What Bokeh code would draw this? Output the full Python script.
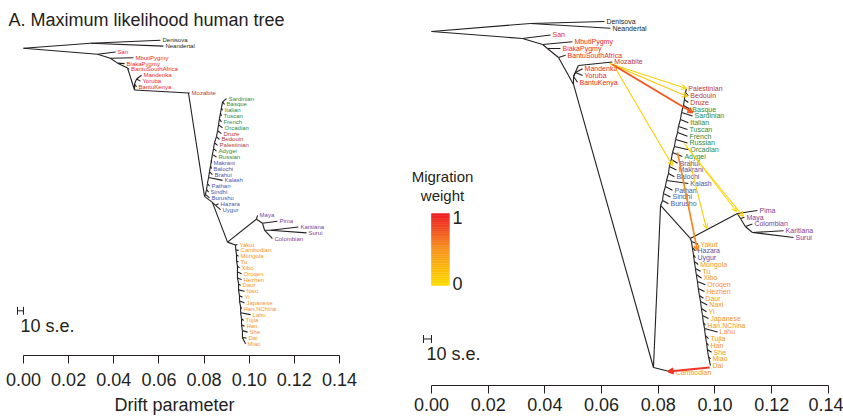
import numpy as np
from bokeh.plotting import figure
from bokeh.layouts import row
from bokeh.models import (Range1d, FixedTicker, NumeralTickFormatter, ColumnDataSource,
                          Label, Arrow, OpenHead)
from bokeh.embed import file_html
from bokeh.resources import INLINE
from bokeh.core.properties import value

FONT = "Liberation Sans"

# ---------------- DATA: left panel (tree without migration) ----------------
L_tip_names = ["Denisova", "Neandertal", "San", "MbutiPygmy", "BiakaPygmy", "BantuSouthAfrica",
               "Mandenka", "Yoruba", "BantuKenya", "Mozabite", "Sardinian", "Basque", "Italian",
               "Tuscan", "French", "Orcadian", "Druze", "Bedouin", "Palestinian", "Adygei", "Russian",
               "Makrani", "Balochi", "Brahui", "Kalash", "Pathan", "Sindhi", "Burusho", "Hazara",
               "Uygur", "Maya", "Pima", "Karitiana", "Surui", "Colombian", "Yakut", "Cambodian",
               "Mongola", "Tu", "Xibo", "Oroqen", "Hezhen", "Daur", "Naxi", "Yi", "Japanese",
               "Han.NChina", "Lahu", "Tujia", "Han", "She", "Dai", "Miao"]
L_tip_group = ["arch", "arch", "afr", "afr", "afr", "afr", "afr", "afr", "afr", "me",
               "eur", "eur", "eur", "eur", "eur", "eur", "me", "me", "me", "eur", "eur",
               "csa", "csa", "csa", "csa", "csa", "csa", "csa", "csa", "csa",
               "amr", "amr", "amr", "amr", "amr"] + ["eas"] * 18
L_tip_drift = [0.0607, 0.0620, 0.0408, 0.0487, 0.0448, 0.0468, 0.0523, 0.0518, 0.0501, 0.0736,
               0.0900, 0.0891, 0.0882, 0.0877, 0.0877, 0.0882, 0.0877, 0.0868, 0.0860, 0.0855,
               0.0855, 0.0833, 0.0833, 0.0837, 0.0882, 0.0824, 0.0820, 0.0824, 0.0864, 0.0873,
               0.1037, 0.1125, 0.1218, 0.1254, 0.1103, 0.0948, 0.0953, 0.0953, 0.0953, 0.0957,
               0.0966, 0.0966, 0.0962, 0.0979, 0.0970, 0.0979, 0.0966, 0.1006, 0.0975, 0.0979,
               0.0993, 0.0988, 0.0984]
L_tip_rank = list(range(53))
L_tip_parent = ["arch", "arch", "hum", "n_mb", "n_bi", "n_bs", "n_my", "n_my", "n_wa", "ooa",
                "wb17", "wb17", "wb16", "wb15", "wb14", "wb13", "wb12", "wb11", "wb10", "wb9",
                "wb8", "wb7", "wb6", "wb5", "wb4", "wb3", "wb2", "wb1", "hu2", "hu2",
                "am", "am2", "sa", "sa", "am3", "eb1", "eb2", "eb3", "eb4", "eb5", "eb6", "eb7",
                "eb8", "eb9", "eb10", "eb11", "eb12", "eb13", "eb14", "eb15", "eb16", "eb17", "eb17"]

L_node_names = ["root", "arch", "hum", "n_mb", "n_bi", "n_bs", "n_af", "n_wa", "n_my", "ooa", "eur",
                "wb1", "wb2", "wb3", "wb4", "wb5", "wb6", "wb7", "wb8", "wb9", "wb10", "wb11",
                "wb12", "wb13", "wb14", "wb15", "wb16", "wb17", "hu", "hu2", "ea", "am", "am2",
                "am3", "sa", "eb1", "eb2", "eb3", "eb4", "eb5", "eb6", "eb7", "eb8", "eb9", "eb10",
                "eb11", "eb12", "eb13", "eb14", "eb15", "eb16", "eb17"]
L_node_drift = [0.0, 0.0297, 0.0328, 0.0385, 0.0417, 0.0461, 0.0492, 0.0492, 0.0501, 0.0731, 0.0802,
                0.0806, 0.0811, 0.0815, 0.0820, 0.0824, 0.0829, 0.0833, 0.0837, 0.0842, 0.0846,
                0.0855, 0.0860, 0.0864, 0.0868, 0.0873, 0.0877, 0.0882, 0.0837, 0.0851, 0.0904,
                0.1032, 0.1059, 0.1068, 0.1094, 0.0939, 0.0941, 0.0944, 0.0944, 0.0948, 0.0948,
                0.0948, 0.0953, 0.0953, 0.0957, 0.0957, 0.0962, 0.0962, 0.0966, 0.0966, 0.0970,
                0.0970]
L_node_rank = [1.36, 0.51, 2.39, 3.07, 3.92, 4.77, 8.52, 7.50, 6.64, 9.03, 26.75,
               26.41, 25.55, 24.53, 23.51, 22.49, 21.46, 20.44, 19.59, 18.57, 17.55, 16.52,
               15.50, 14.48, 13.46, 12.44, 11.58, 10.56, 27.77, 28.28, 34.58, 30.66, 31.35,
               32.54, 32.54, 35.09, 35.95, 36.80, 37.82, 38.67, 39.69, 40.72, 41.74, 42.76,
               43.78, 44.63, 45.66, 46.68, 47.70, 48.72, 49.74, 50.94]
L_node_parent = [None, "root", "root", "hum", "n_mb", "n_bi", "n_bs", "n_af", "n_wa", "n_af", "ooa",
                 "eur", "wb1", "wb2", "wb3", "wb4", "wb5", "wb6", "wb7", "wb8", "wb9", "wb10",
                 "wb11", "wb12", "wb13", "wb14", "wb15", "wb16", "eur", "hu", "hu", "ea", "am",
                 "am2", "am3", "ea", "eb1", "eb2", "eb3", "eb4", "eb5", "eb6", "eb7", "eb8", "eb9",
                 "eb10", "eb11", "eb12", "eb13", "eb14", "eb15", "eb16"]

# ---------------- DATA: right panel (tree with migration) ----------------
R_tip_names = ["Denisova", "Neandertal", "San", "MbutiPygmy", "BiakaPygmy", "BantuSouthAfrica",
               "Mozabite", "Mandenka", "Yoruba", "BantuKenya", "Palestinian", "Bedouin", "Druze",
               "Basque", "Sardinian", "Italian", "Tuscan", "French", "Russian", "Orcadian", "Adygei",
               "Brahui", "Makrani", "Balochi", "Kalash", "Pathan", "Sindhi", "Burusho", "Pima",
               "Maya", "Colombian", "Karitiana", "Surui", "Yakut", "Hazara", "Uygur", "Mongola",
               "Tu", "Xibo", "Oroqen", "Hezhen", "Daur", "Naxi", "Yi", "Japanese", "Han.NChina",
               "Lahu", "Tujia", "Han", "She", "Miao", "Dai", "Cambodian"]
R_tip_group = ["arch", "arch", "afr", "afr", "afr", "afr", "me", "afr", "afr", "afr",
               "me", "me", "me", "eur", "eur", "eur", "eur", "eur", "eur", "eur", "eur",
               "csa", "csa", "csa", "csa", "csa", "csa", "csa",
               "amr", "amr", "amr", "amr", "amr", "eas", "csa", "csa"] + ["eas"] * 17
R_tip_drift = [0.0610, 0.0631, 0.0420, 0.0497, 0.0455, 0.0473, 0.0638, 0.0533, 0.0533, 0.0515,
               0.0899, 0.0906, 0.0906, 0.0913, 0.0921, 0.0906, 0.0903, 0.0903, 0.0903, 0.0906,
               0.0885, 0.0868, 0.0864, 0.0857, 0.0906, 0.0850, 0.0843, 0.0836, 0.1150, 0.1104,
               0.1132, 0.1242, 0.1277, 0.0941, 0.0931, 0.0931, 0.0941, 0.0949, 0.0952, 0.0966,
               0.0963, 0.0959, 0.0973, 0.0970, 0.0977, 0.0966, 0.1009, 0.0977, 0.0977, 0.0988,
               0.0984, 0.0984, 0.0854]
R_tip_rank = list(range(53))
R_tip_parent = ["arch", "arch", "hum", "n_mb", "n_bi", "n_bs", "n_moz", "n_my", "n_my", "n_wa",
                "rw17", "rw17", "rw16", "rw15", "rw14", "rw13", "rw12", "rw11", "rw10", "rw9",
                "rw8", "rw7", "rw6", "rw5", "rw4", "rw3", "rw2", "rw1", "am", "am2", "am3", "sa",
                "sa", "re1", "re2", "re3", "re4", "re5", "re6", "re7", "re8", "re9", "re10", "re11",
                "re12", "re13", "re14", "re15", "re16", "re17", "re18", "re18", "NA"]

R_node_names = ["root", "arch", "hum", "n_mb", "n_bi", "n_bs", "n_x", "n_wa", "n_my", "n_moz", "NA",
                "eurN", "rw1", "rw2", "rw3", "rw4", "rw5", "rw6", "rw7", "rw8", "rw9", "rw10",
                "rw11", "rw12", "rw13", "rw14", "rw15", "rw16", "rw17", "ea", "am", "am2", "am3",
                "sa", "re1", "re2", "re3", "re4", "re5", "re6", "re7", "re8", "re9", "re10", "re11",
                "re12", "re13", "re14", "re15", "re16", "re17", "re18"]
R_node_drift = [0.0, 0.0349, 0.0321, 0.0392, 0.0409, 0.0448, 0.0501, 0.0501, 0.0508, 0.0518, 0.0783,
                0.0808, 0.0815, 0.0818, 0.0825, 0.0829, 0.0836, 0.0839, 0.0846, 0.0850, 0.0857,
                0.0861, 0.0868, 0.0871, 0.0878, 0.0882, 0.0889, 0.0892, 0.0896, 0.0913, 0.1079,
                0.1090, 0.1107, 0.1132, 0.0917, 0.0920, 0.0924, 0.0927, 0.0931, 0.0934, 0.0938,
                0.0941, 0.0945, 0.0949, 0.0952, 0.0956, 0.0959, 0.0963, 0.0966, 0.0970, 0.0973,
                0.0977]
R_node_rank = [1.48, 0.30, 2.52, 3.41, 4.00, 5.33, 9.33, 8.15, 7.56, 6.52, 51.26,
               27.26, 26.52, 25.48, 24.44, 23.56, 22.52, 21.48, 20.44, 19.41, 18.52, 17.48,
               16.44, 15.56, 14.52, 13.48, 12.44, 11.56, 10.52, 32.15, 28.44, 29.19, 30.37,
               31.26, 32.59, 33.48, 34.52, 35.56, 36.59, 37.48, 38.52, 39.56, 40.59, 41.48,
               42.52, 43.56, 44.59, 45.48, 46.52, 47.56, 48.59, 49.63]
R_node_parent = [None, "root", "root", "hum", "n_mb", "n_bi", "n_bs", "n_x", "n_wa", "n_wa", "n_x",
                 "NA", "eurN", "rw1", "rw2", "rw3", "rw4", "rw5", "rw6", "rw7", "rw8", "rw9",
                 "rw10", "rw11", "rw12", "rw13", "rw14", "rw15", "rw16", "eurN", "ea", "am", "am2",
                 "am3", "ea", "re1", "re2", "re3", "re4", "re5", "re6", "re7", "re8", "re9", "re10",
                 "re11", "re12", "re13", "re14", "re15", "re16", "re17"]

# migration edges (right panel): source drift/rank -> target drift/rank, weight
M_from_drift = [0.0628, 0.0628, 0.0638, 0.0645, 0.0892, 0.0899, 0.0868, 0.0910, 0.0981]
M_from_rank = [6.22, 6.22, 6.37, 6.67, 18.07, 18.52, 19.41, 20.59, 51.26]
M_to_drift = [0.0899, 0.0903, 0.0921, 0.0850, 0.1076, 0.1100, 0.0938, 0.0970, 0.0836]
M_to_rank = [9.93, 11.11, 13.48, 21.33, 28.15, 28.89, 33.93, 30.67, 51.85]
M_weight = [0.10, 0.15, 0.75, 0.10, 0.05, 0.08, 0.55, 0.10, 0.90]

AXIS_TICKS = [0.00, 0.02, 0.04, 0.06, 0.08, 0.10, 0.12, 0.14]

GROUP_COLORS = {"arch": "#231f20", "afr": "#ee2a24", "me": "#b83a30", "eur": "#2f8a3b",
                "csa": "#4b56a8", "amr": "#7e3f98", "eas": "#f7941d"}


def wcolor(w):
    a = np.array([255, 221, 0]); b = np.array([247, 148, 29]); c = np.array([237, 28, 36])
    if w <= 0.5:
        col = a + (b - a) * (w / 0.5)
    else:
        col = b + (c - b) * ((w - 0.5) / 0.5)
    return "#%02x%02x%02x" % tuple(int(round(v)) for v in col)


def draw_tree(p, tnames, tgroup, tdrift, trank, tparent, nnames, ndrift, nrank, nparent,
              font_size):
    pos = {n: (d, r) for n, d, r in zip(nnames, ndrift, nrank)}
    x0, y0, x1, y1 = [], [], [], []
    for n, par in zip(nnames, nparent):
        if par is None:
            continue
        x0.append(pos[par][0]); y0.append(pos[par][1]); x1.append(pos[n][0]); y1.append(pos[n][1])
    for d, r, par in zip(tdrift, trank, tparent):
        x0.append(pos[par][0]); y0.append(pos[par][1]); x1.append(d); y1.append(r)
    p.segment(x0=x0, y0=y0, x1=x1, y1=y1, line_color="#231f20", line_width=1.1)
    src = ColumnDataSource(dict(x=tdrift, y=trank, t=tnames,
                                c=[GROUP_COLORS[g] for g in tgroup]))
    p.text(x="x", y="y", text="t", source=src, text_color="c", text_font=value(FONT),
           text_font_size=font_size, text_baseline="middle", text_align="left", x_offset=2)


def style_axis(p):
    p.yaxis.visible = False
    p.xgrid.visible = False
    p.ygrid.visible = False
    p.outline_line_color = None
    ax = p.xaxis[0]
    ax.ticker = FixedTicker(ticks=AXIS_TICKS)
    ax.formatter = NumeralTickFormatter(format="0.00")
    ax.bounds = (0, 0.14)
    ax.major_tick_in = 0
    ax.major_tick_out = 8
    ax.minor_tick_in = 0
    ax.minor_tick_out = 0
    ax.axis_line_color = "#231f20"
    ax.major_tick_line_color = "#231f20"
    ax.major_label_text_font = FONT
    ax.major_label_text_font_size = "18px"
    ax.major_label_text_color = "#231f20"


# ---------------- left figure ----------------
pl = figure(width=400, height=417, x_range=Range1d(-0.01019, 0.1440), y_range=Range1d(54.0, -6.81),
            output_backend="svg", toolbar_location=None, min_border_left=0, min_border_right=52,
            min_border_top=0, min_border_bottom=60, frame_align=False)
style_axis(pl)
pl.xaxis[0].major_label_standoff = 9
pl.xaxis[0].axis_label = "Drift parameter"
pl.xaxis[0].axis_label_text_font = FONT
pl.xaxis[0].axis_label_text_font_size = "18px"
pl.xaxis[0].axis_label_text_font_style = "normal"
pl.xaxis[0].axis_label_text_color = "#231f20"
pl.xaxis[0].axis_label_standoff = 6
draw_tree(pl, L_tip_names, L_tip_group, L_tip_drift, L_tip_rank, L_tip_parent,
          L_node_names, L_node_drift, L_node_rank, L_node_parent, "6px")
pl.add_layout(Label(x=-0.00665, y=-3.41, text="A. Maximum likelihood human tree",
                    text_font=FONT, text_font_size="18px", text_color="#231f20",
                    text_baseline="middle"))
# 10 s.e. scale bar
pl.segment(x0=[-0.00266, -0.00266, 0.0], y0=[46.34, 45.66, 45.66],
           x1=[0.0, -0.00266, 0.0], y1=[46.34, 47.02, 47.02], line_color="#231f20", line_width=1)
pl.add_layout(Label(x=-0.0013, y=48.89, text="10 s.e.", text_font=FONT, text_font_size="18px",
                    text_color="#231f20", text_baseline="middle"))

# ---------------- right figure ----------------
pr = figure(width=443, height=417, x_range=Range1d(-0.01093, 0.14533), y_range=Range1d(53.93, -3.11),
            output_backend="svg", toolbar_location=None, min_border_left=0, min_border_right=0,
            min_border_top=0, min_border_bottom=32, frame_align=False)
style_axis(pr)
pr.xaxis[0].major_label_standoff = 4
draw_tree(pr, R_tip_names, R_tip_group, R_tip_drift, R_tip_rank, R_tip_parent,
          R_node_names, R_node_drift, R_node_rank, R_node_parent, "7px")

for fx, fr, tx, tr, w in zip(M_from_drift, M_from_rank, M_to_drift, M_to_rank, M_weight):
    col = wcolor(w)
    lw = 1.0 + 1.2 * w
    src = ColumnDataSource(dict(x0=[fx], y0=[fr], x1=[tx], y1=[tr]))
    pr.add_layout(Arrow(x_start="x0", y_start="y0", x_end="x1", y_end="y1", source=src,
                        line_color=col, line_width=lw,
                        end=OpenHead(size=5, line_color=col, line_width=lw)))

# colour bar for migration weight
levels = np.linspace(0, 1, 41)
bar_bottom, bar_top = 39.11, 28.44
q_bot = [bar_bottom + (bar_top - bar_bottom) * levels[i] for i in range(40)]
q_top = [bar_bottom + (bar_top - bar_bottom) * levels[i + 1] for i in range(40)]
q_col = [wcolor((levels[i] + levels[i + 1]) / 2) for i in range(40)]
pr.quad(left=0.0, right=0.0063, bottom=q_bot, top=q_top, fill_color=q_col, line_color=q_col,
        line_width=0.5)
pr.add_layout(Label(x=0.0039, y=22.96, text="Migration", text_font=FONT, text_font_size="15px",
                    text_color="#231f20", text_baseline="middle", text_align="center"))
pr.add_layout(Label(x=0.0039, y=25.78, text="weight", text_font=FONT, text_font_size="15px",
                    text_color="#231f20", text_baseline="middle", text_align="center"))
pr.add_layout(Label(x=0.0074, y=29.04, text="1", text_font=FONT, text_font_size="18px",
                    text_color="#231f20", text_baseline="middle"))
pr.add_layout(Label(x=0.0074, y=38.81, text="0", text_font=FONT, text_font_size="18px",
                    text_color="#231f20", text_baseline="middle"))
# 10 s.e. scale bar
pr.segment(x0=[-0.00282, -0.00282, 0.0], y0=[47.04, 46.45, 46.45],
           x1=[0.0, -0.00282, 0.0], y1=[47.04, 47.63, 47.63], line_color="#231f20", line_width=1)
pr.add_layout(Label(x=-0.0018, y=49.19, text="10 s.e.", text_font=FONT, text_font_size="18px",
                    text_color="#231f20", text_baseline="middle"))

layout = row(pl, pr, spacing=0)
open("out.html", "w").write(file_html(layout, INLINE))
